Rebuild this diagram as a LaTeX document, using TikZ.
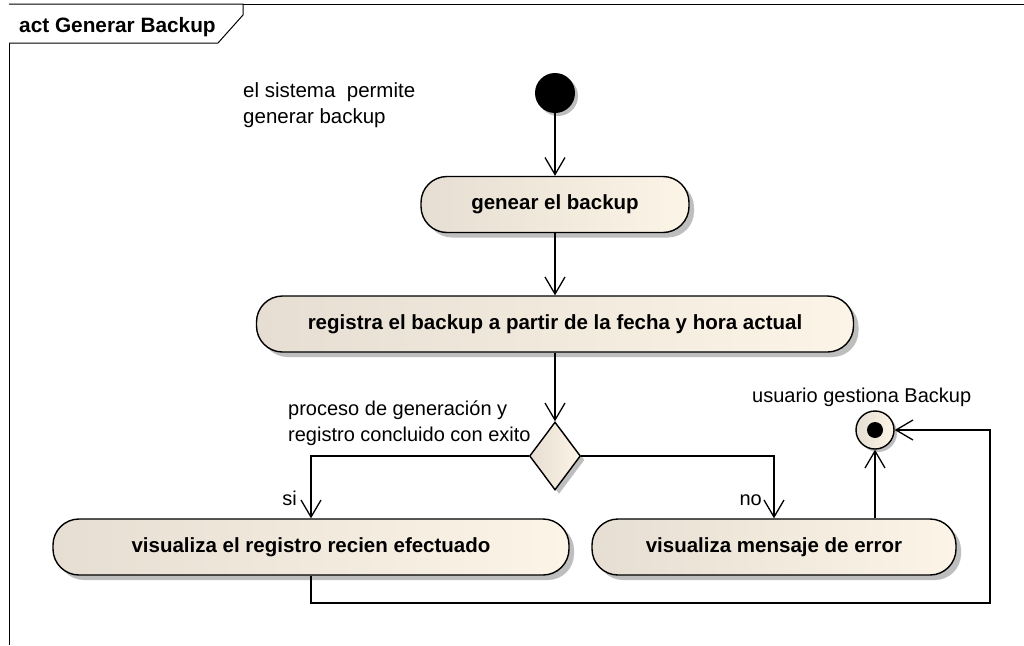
\documentclass[tikz,border=0pt]{standalone}
\usepackage{fontspec}
\setmainfont{Liberation Sans}
\usetikzlibrary{arrows.meta,shapes.geometric,shadows,calc}
\definecolor{actL}{HTML}{E6DED2}
\definecolor{actR}{HTML}{FCF4E6}
\definecolor{shad}{HTML}{BEBEBE}
\begin{document}
\begin{tikzpicture}[x=1pt,y=-1pt,
  every node/.style={font=\fontsize{20}{26}\selectfont},
  action/.style={draw, line width=1.4pt, rounded corners=26pt,
    left color=actL, right color=actR, font=\fontsize{20.5}{26}\selectfont\bfseries,
    minimum height=56pt, inner sep=0pt,
    drop shadow={shadow xshift=5pt, shadow yshift=-5pt, fill=shad, opacity=1}},
  decision/.style={draw, line width=1.4pt, shape=diamond, minimum width=51pt,
    minimum height=68pt, inner sep=0pt, left color=actL, right color=actR,
    drop shadow={shadow xshift=4pt, shadow yshift=-4pt, fill=shad, opacity=1}},
  initnode/.style={circle, fill=black, minimum size=40pt, inner sep=0pt,
    drop shadow={shadow xshift=3pt, shadow yshift=-3pt, fill=shad, opacity=1}},
  finalnode/.style={circle, draw, line width=1.4pt, minimum size=38pt, inner sep=0pt,
    left color=actL, right color=actR,
    drop shadow={shadow xshift=3pt, shadow yshift=-3pt, fill=shad, opacity=1},
    path picture={\fill[black] (path picture bounding box.center) circle (8pt);}},
  txt/.style={inner sep=0pt, align=left},
  arr/.style={line width=1.3pt, -{Straight Barb[length=17pt,width=20pt]}}
]
\useasboundingbox (0,0) rectangle (1024,645);
\fill[white] (0,0) rectangle (1024,645);
% frame
\draw[line width=1pt] (9,645) -- (9,4) -- (1024,4);
\draw[line width=1pt, fill=white] (9,4) -- (243,4) -- (243,15) -- (218,43) -- (9,43);
\node[anchor=base west, inner sep=0pt, font=\fontsize{20.8}{26}\selectfont\bfseries] (title) at (19,32) {act Generar Backup};

% nodes
\node[initnode] (ini) at (555,93) {};
\node[action, minimum width=268pt] (a1) at (555,204.5) {genear el backup};
\node[action, minimum width=597pt] (a2) at (555,324) {registra el backup a partir de la fecha y hora actual};
\node[decision] (dec) at (555,456) {};
\node[action, minimum width=516pt] (a3) at (311,547) {visualiza el registro recien efectuado};
\node[action, minimum width=364pt] (a4) at (774,547) {visualiza mensaje de error};
\node[finalnode] (fin) at (875,430) {};

% texts
\node[txt, anchor=north west, font=\fontsize{20.5}{26}\selectfont] (n1) at (243,82) {el sistema\ \ permite\\generar backup};
\node[txt, anchor=north west] (n2) at (288,401) {proceso de generación y\\registro concluido con exito};
\node[txt, anchor=base west] (n3) at (752,402) {usuario gestiona Backup};
\node[txt, anchor=base east] (lsi) at (297,505) {si};
\node[txt, anchor=base east] (lno) at (762,505) {no};

% connectors
\coordinate (c1) at (990,603);
\draw[arr] (ini.south) -- (a1.north);
\draw[arr] (a1.south) -- (a2.north);
\draw[arr] (a2.south) -- (dec.north);
\draw[arr] (dec.west) -| (a3.north);
\draw[arr] (dec.east) -| (a4.north);
\draw[arr] (a4.north -| fin.south) -- (fin.south);
\draw[arr] (a3.south) |- (c1) |- (fin.east);
\end{tikzpicture}
\end{document}
